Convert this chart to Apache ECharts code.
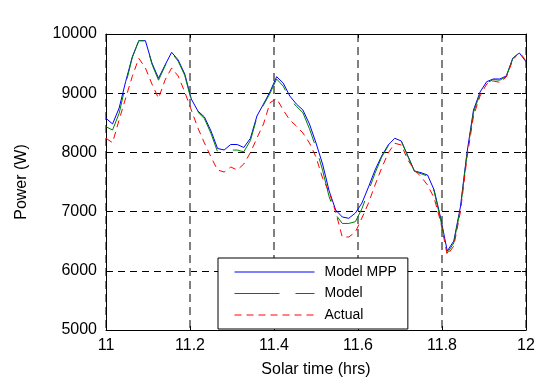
<!DOCTYPE html>
<html>
<head>
<meta charset="utf-8">
<script src="https://cdn.jsdelivr.net/npm/echarts@6/dist/echarts.min.js"></script>
<style>
  html, body { margin: 0; padding: 0; background: #fff; }
  #chart { width: 539px; height: 383px; }
</style>
</head>
<body>
<div id="chart"></div>
<script>
// Solar time of each sample (hrs)
const times = [11.0000, 11.0156, 11.0313, 11.0469, 11.0625, 11.0781, 11.0938, 11.1094, 11.1250, 11.1406,
  11.1563, 11.1719, 11.1875, 11.2031, 11.2188, 11.2344, 11.2500, 11.2656, 11.2813, 11.2969,
  11.3125, 11.3281, 11.3438, 11.3594, 11.3750, 11.3906, 11.4063, 11.4219, 11.4375, 11.4531,
  11.4688, 11.4844, 11.5000, 11.5156, 11.5313, 11.5469, 11.5625, 11.5781, 11.5938, 11.6094,
  11.6250, 11.6406, 11.6563, 11.6719, 11.6875, 11.7031, 11.7188, 11.7344, 11.7500, 11.7656,
  11.7813, 11.7969, 11.8125, 11.8281, 11.8438, 11.8594, 11.8750, 11.8906, 11.9063, 11.9219,
  11.9375, 11.9531, 11.9688, 11.9844, 12.0000];

// Power (W)
const modelMPP = [8576, 8480, 8750, 9198, 9611, 9887, 9887, 9510, 9252, 9476,
  9691, 9561, 9324, 8902, 8699, 8598, 8361, 8066, 8041, 8133,
  8133, 8083, 8238, 8615, 8818, 9025, 9279, 9172, 8953, 8818,
  8716, 8480, 8159, 7804, 7348, 7027, 6909, 6887, 6976, 7145,
  7416, 7703, 7939, 8125, 8238, 8193, 7939, 7686, 7657, 7618,
  7365, 6892, 6334, 6503, 7078, 7990, 8716, 9020, 9194, 9240,
  9240, 9291, 9595, 9679, 9532];

const model = [8434, 8378, 8660, 9150, 9600, 9887, 9887, 9490, 9220, 9460,
  9680, 9540, 9300, 8880, 8680, 8570, 8320, 8010, 8020, 8040,
  8040, 8010, 8200, 8590, 8800, 9000, 9240, 9120, 8900, 8780,
  8670, 8400, 8080, 7700, 7250, 6950, 6800, 6800, 6830, 7050,
  7350, 7650, 7920, 8110, 8230, 8190, 7930, 7680, 7640, 7600,
  7340, 6860, 6300, 6470, 7050, 7960, 8680, 8990, 9170, 9230,
  9220, 9280, 9590, 9680, 9530];

const actual = [8238, 8164, 8551, 8919, 9282, 9590, 9426, 9155, 8914, 9223,
  9426, 9290, 9020, 8716, 8412, 8159, 7922, 7703, 7669, 7753,
  7703, 7804, 7995, 8243, 8480, 8840, 8910, 8716, 8547, 8446,
  8328, 8159, 7922, 7568, 7331, 6993, 6571, 6571, 6655, 6892,
  7145, 7449, 7736, 7990, 8154, 8125, 7872, 7703, 7590, 7449,
  7230, 6824, 6267, 6419, 6993, 7905, 8615, 8953, 9155, 9206,
  9184, 9274, 9561, 9696, 9544];

const seriesNames = ['Model MPP', 'Model', 'Actual'];
const xAxisName = 'Solar time (hrs)';
const yAxisName = 'Power (W)';

const FONT = "'Liberation Sans', Arial, Helvetica, sans-serif";
const pairs = (ys) => times.map((t, i) => [t, ys[i]]);

const chart = echarts.init(document.getElementById('chart'), null, { renderer: 'canvas' });

const lineSeries = (name, ys, color, dash, z) => ({
  name,
  type: 'line',
  data: pairs(ys),
  symbol: 'none',
  showSymbol: false,
  smooth: false,
  animation: false,
  z,
  lineStyle: { color, width: 1, type: dash },
  itemStyle: { color }
});

chart.setOption({
  animation: false,
  backgroundColor: '#ffffff',
  grid: { left: 106, right: 13, top: 34, bottom: 53, containLabel: false },
  xAxis: [{
    type: 'value',
    min: 11, max: 12, interval: 0.2,
    name: xAxisName,
    nameLocation: 'middle',
    nameGap: 32,
    nameTextStyle: { color: '#000', fontSize: 16, fontFamily: FONT },
    axisLine: { show: true, onZero: false, lineStyle: { color: '#000', width: 1 } },
    axisTick: { show: true, inside: true, length: 4, lineStyle: { color: '#000' } },
    axisLabel: {
      color: '#000', fontSize: 16, fontFamily: FONT, margin: 8,
      formatter: (v) => String(+v.toFixed(1))
    },
    splitLine: { show: true, lineStyle: { color: '#7f7f7f', width: 2, type: [8, 5] } }
  }, {
    type: 'value',
    min: 11, max: 12, interval: 0.2,
    position: 'top',
    axisLine: { show: true, onZero: false, lineStyle: { color: '#000', width: 1 } },
    axisTick: { show: true, inside: true, length: 4, lineStyle: { color: '#000' } },
    axisLabel: { show: false },
    splitLine: { show: false }
  }],
  yAxis: [{
    type: 'value',
    min: 5000, max: 10000, interval: 1000,
    name: yAxisName,
    nameLocation: 'middle',
    nameGap: 76,
    nameRotate: 90,
    nameTextStyle: { color: '#000', fontSize: 16, fontFamily: FONT },
    axisLine: { show: true, onZero: false, lineStyle: { color: '#000', width: 1 } },
    axisTick: { show: true, inside: true, length: 4, lineStyle: { color: '#000' } },
    axisLabel: {
      color: '#000', fontSize: 16, fontFamily: FONT, margin: 9,
      formatter: (v) => String(v)
    },
    splitLine: { show: true, lineStyle: { color: '#000', width: 1, type: [7, 5] } }
  }, {
    type: 'value',
    min: 5000, max: 10000, interval: 1000,
    position: 'right',
    axisLine: { show: true, onZero: false, lineStyle: { color: '#000', width: 1 } },
    axisTick: { show: true, inside: true, length: 4, lineStyle: { color: '#000' } },
    axisLabel: { show: false },
    splitLine: { show: false }
  }],
  legend: {
    orient: 'vertical',
    left: 218, top: 258,
    backgroundColor: '#fff',
    borderColor: '#000',
    borderWidth: 1,
    borderRadius: 0,
    padding: [7, 11, 7, 16],
    itemWidth: 80,
    itemHeight: 13,
    itemGap: 7.5,
    selectedMode: false,
    itemStyle: { opacity: 0 },
    lineStyle: { width: 1 },
    textStyle: { color: '#000', fontSize: 14, fontFamily: FONT, padding: [4, 0, 0, 5] },
    data: seriesNames
  },
  series: [
    lineSeries(seriesNames[0], modelMPP, '#0000ff', 'solid', 3),
    lineSeries(seriesNames[1], model, '#008000', [45, 16], 4),
    lineSeries(seriesNames[2], actual, '#ff0000', [7, 5], 5)
  ]
});
</script>
</body>
</html>
